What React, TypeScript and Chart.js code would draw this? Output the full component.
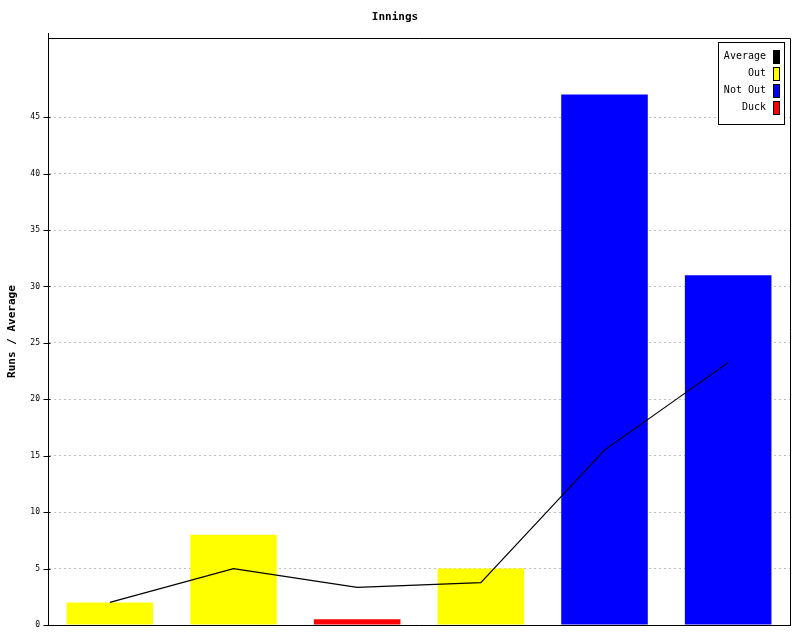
import React, { useEffect, useRef } from "react";
import { Chart, registerables } from "chart.js";

Chart.register(...registerables);

const categories = ["1", "2", "3", "4", "5", "6"];
const runs = [2, 8, 0.5, 5, 47, 31];
const status = ["Out", "Out", "Duck", "Out", "Not Out", "Not Out"];
const average = [2, 5, 3.33, 3.75, 15.5, 23.25];
const legendLabels = ["Average", "Out", "Not Out", "Duck"];
const legendColors = ["#000000", "#ffff00", "#0000ff", "#ff0000"];
const statusColors: Record<string, string> = { Out: "#ffff00", "Not Out": "#0000ff", Duck: "#ff0000" };
const yTicksMax = 45;

const MONO = '"DejaVu Sans Mono", monospace';

const framePlugin = {
  id: "frame",
  afterDraw(chart: any) {
    const { ctx, chartArea } = chart;
    const { left, right, top } = chartArea;
    const lx = Math.round(left) + 0.5;
    ctx.save();
    ctx.strokeStyle = "#000";
    ctx.lineWidth = 1;
    ctx.beginPath();
    ctx.moveTo(lx, Math.round(top) - 5);
    ctx.lineTo(lx, Math.round(top));
    ctx.moveTo(Math.round(left), Math.round(top) + 0.5);
    ctx.lineTo(Math.round(right) + 0.5, Math.round(top) + 0.5);
    ctx.lineTo(Math.round(right) + 0.5, Math.round(chartArea.bottom));
    const ys = chart.scales.y;
    ys.ticks.forEach((t: any) => {
      const py = Math.round(ys.getPixelForValue(t.value)) + 0.5;
      ctx.moveTo(lx - 5, py);
      ctx.lineTo(lx + 2, py);
    });
    ctx.stroke();

    const bx = Math.round(right) - 72;
    const by = Math.round(top) + 4;
    const bw = 66;
    const bh = 82;
    ctx.fillStyle = "#fff";
    ctx.fillRect(bx, by, bw, bh);
    ctx.strokeRect(bx + 0.5, by + 0.5, bw, bh);
    ctx.font = `10px ${MONO}`;
    ctx.textAlign = "right";
    ctx.textBaseline = "middle";
    legendLabels.forEach((lab, i) => {
      const cy = by + 14 + i * 17;
      ctx.fillStyle = "#000";
      ctx.fillText(lab, bx + 48, cy);
      ctx.fillStyle = legendColors[i];
      ctx.fillRect(bx + 55, cy - 6, 6, 13);
      ctx.strokeStyle = "#000";
      ctx.strokeRect(bx + 55.5, cy - 5.5, 6, 13);
    });
    ctx.restore();
  },
};

export default function App() {
  const ref = useRef<HTMLCanvasElement>(null);
  useEffect(() => {
    if (!ref.current) return;
    const chart = new Chart(ref.current, {
      type: "bar",
      data: {
        labels: categories,
        datasets: [
          {
            type: "line",
            label: "Average",
            data: average,
            borderColor: "#000",
            borderWidth: 1.2,
            pointRadius: 0,
            fill: false,
            tension: 0,
            order: 0,
          } as any,
          {
            type: "bar",
            label: "Runs",
            data: runs,
            backgroundColor: status.map((s) => statusColors[s]),
            borderWidth: 0,
            categoryPercentage: 1,
            barPercentage: 0.7,
            order: 1,
          },
        ],
      },
      options: {
        responsive: false,
        animation: false,
        layout: { padding: { left: 0, right: 10, top: 0, bottom: 0 } },
        plugins: {
          legend: { display: false },
          tooltip: { enabled: false },
          title: {
            display: true,
            text: "Innings",
            color: "#000",
            font: { family: MONO, size: 11, weight: "bold" },
            padding: { top: 11, bottom: 14 },
          },
        },
        scales: {
          x: {
            ticks: { display: false },
            grid: { display: false, drawTicks: false },
            border: { display: true, color: "#000", width: 1 },
            afterFit: (s: any) => {
              s.height = 15;
            },
          },
          y: {
            min: 0,
            max: 52,
            ticks: {
              stepSize: 5,
              color: "#000",
              font: { family: MONO, size: 8 },
              padding: 3,
            },
            afterBuildTicks: (s: any) => {
              s.ticks = s.ticks.filter((t: any) => t.value <= yTicksMax);
            },
            grid: {
              color: "#c0c0c0",
              lineWidth: 1,
              drawTicks: true,
              tickLength: 5,
              tickColor: "rgba(0,0,0,0)",
            } as any,
            border: { display: true, color: "#000", width: 1, dash: [2, 3] } as any,
            title: {
              display: true,
              text: "Runs / Average",
              color: "#000",
              font: { family: MONO, size: 11, weight: "bold" },
              padding: { top: 6, bottom: 0 },
            },
            afterFit: (s: any) => {
              s.width = 48;
            },
          },
        },
      },
      plugins: [framePlugin],
    });
    return () => chart.destroy();
  }, []);
  return (
    <div style={{ position: "absolute", left: 0, top: 0, width: 800, height: 640, background: "#fff" }}>
      <canvas ref={ref} width={800} height={640} />
    </div>
  );
}
